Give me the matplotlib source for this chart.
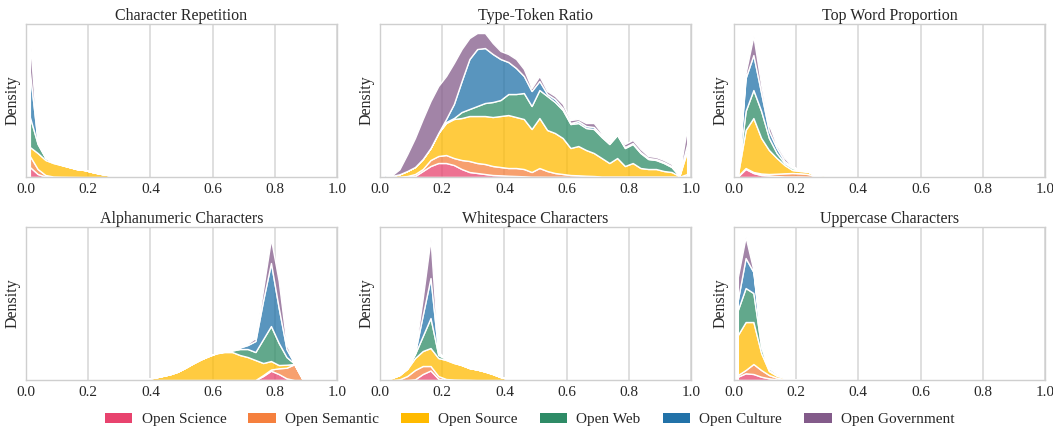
import numpy as np
import matplotlib
matplotlib.use("Agg")
from matplotlib import pyplot as plt
from matplotlib.colors import to_rgba
from matplotlib.patches import Patch

# series (bottom of the stack first)
series_names = ["Open Science", "Open Semantic", "Open Source",
                "Open Web", "Open Culture", "Open Government"]
series_colors = ["#E8436E", "#F5803E", "#FFBA00", "#2E8B66", "#2272A8", "#835B8A"]

panel_titles = ["Character Repetition", "Type-Token Ratio", "Top Word Proportion",
                "Alphanumeric Characters", "Whitespace Characters", "Uppercase Characters"]

# 40 bins on [0, 1]; each panel stores the first used bin and the
# stacked top of every series (science, semantic, source, web, culture, government)
n_bins = 40
xticks = [0.0, 0.2, 0.4, 0.6, 0.8, 1.0]

char_rep_start = 0
char_rep = [
    [10, 3, 0.5, 0, 0, 0, 0, 0, 0, 0, 0, 0, 0, 0],
    [21, 8, 2, 0.5, 0.3, 0.2, 0.1, 0, 0, 0, 0, 0, 0, 0],
    [30, 24, 17, 14, 12, 10, 8, 7, 5, 3.3, 2, 1, 0.5, 0.2],
    [60, 33, 19, 15, 12.3, 10.1, 8, 7, 5, 3.3, 2, 1, 0.5, 0.2],
    [105, 35, 19.5, 15.2, 12.4, 10.1, 8, 7, 5, 3.3, 2, 1, 0.5, 0.2],
    [137, 36, 20, 15.4, 12.5, 10.2, 8, 7, 5, 3.3, 2, 1, 0.5, 0.2],
]

ttr_start = 0
ttr = [
    [0, 0, 0, 0.3, 1, 6, 11, 14, 14, 12, 8, 5, 4, 3, 2, 1.7, 1.3, 1, 0.7, 0.3,
     0.3, 0.2, 0.2, 0.2, 0.1, 0.1, 0.1, 0.1, 0, 0, 0, 0, 0, 0, 0, 0, 0, 0, 0, 1],
    [0, 0, 0.3, 1, 3, 8, 17, 21, 22, 19, 17, 16, 14, 13, 11, 10, 9, 9, 8, 5,
     9, 6, 4, 3, 2, 1.7, 1.3, 1, 0.5, 0.5, 0.5, 0.5, 0.5, 0.5, 0.5, 0.5, 0.5, 0.5, 0.3, 3],
    [0, 1, 2.7, 6, 10, 18, 29, 44, 54, 58, 59, 61, 61, 61, 60, 61, 62, 60, 58, 48,
     59, 47, 44, 39, 29, 31, 27, 24, 19, 14, 19, 11, 14, 9, 8, 8, 6, 5, 1, 26],
    [0, 1, 2.7, 6, 10, 18, 29, 44, 55, 59, 65, 68, 71, 74, 75, 77, 83, 83, 84, 71,
     87, 81, 75, 67, 53, 54, 49, 48, 40, 33, 42, 29, 33, 24, 18, 17, 14, 10, 1, 30],
    [2, 1, 2.7, 6, 10, 18, 29, 44, 58, 73, 96, 118, 128, 129, 123, 118, 115, 109, 101, 86,
     96, 83, 78, 69, 54, 56, 51, 50, 42, 34, 43, 30, 34, 25, 19, 18, 15, 11, 2, 33],
    [2, 1.5, 7.7, 22.7, 39, 58, 76, 91, 101, 114, 128, 139, 144, 144, 134, 126, 123, 118, 108, 89,
     101, 86, 81, 73, 57, 58, 54, 54, 44, 36, 45, 33, 37, 28, 21, 20, 17, 13, 3, 50],
]

top_word_start = 0
top_word = [
    [0.5, 8, 4, 2, 1.5, 1, 0.5, 0.5, 0.5, 0.3, 0.2, 0, 0],
    [1, 9, 5, 3.5, 3, 3.3, 3.7, 4, 3.7, 3, 0.7, 0.3, 0],
    [2, 47, 59, 39, 27, 19, 12, 7, 6, 5.5, 1.5, 2, 0.3],
    [2, 66, 87, 66, 39, 24, 14, 9, 6.5, 5.5, 2, 2, 0.3],
    [2, 99, 122, 84, 46, 29, 16, 10, 7, 5.5, 2, 2, 0.3],
    [2, 104, 141, 92, 52, 32, 19, 11, 7, 6, 2, 2, 0.3],
]

alnum_start = 12
alnum = [
    [0, 0, 0, 0, 0, 0, 0, 0, 0, 0, 0, 0, 0, 0, 0, 0, 0, 0, 4, 9.3, 6, 1.7, 0, 0],
    [0, 0, 0, 0, 0, 0, 0, 0, 0, 0, 0, 0, 0, 0, 0, 0, 0, 0, 5, 10.5, 11.7, 12.3, 15.7, 1.7],
    [0.3, 0.5, 0.7, 1.3, 2.3, 4, 5.7, 8.3, 12.3, 16.7, 20.7, 24, 26.7, 28, 28, 25, 23, 20,
     17, 19, 15, 15.3, 16, 1.7],
    [0.3, 0.5, 0.7, 1.3, 2.3, 4, 5.7, 8.3, 12.3, 16.7, 20.7, 24, 27, 28.5, 29.5, 31, 31, 28,
     41, 54, 37, 23, 16.5, 1.7],
    [0.3, 0.5, 0.7, 1.3, 2.3, 4, 5.7, 8.3, 12.3, 16.7, 20.7, 24, 27, 28.5, 30, 32.5, 35, 39,
     80, 117, 72, 31, 16.7, 1.7],
    [0.3, 0.5, 0.7, 1.3, 2.3, 4, 5.7, 8.3, 12.3, 16.7, 20.7, 24, 27, 28.5, 30, 33, 36.5, 42,
     91, 141, 99, 36, 17, 1.7],
]

whitespace_start = 0
whitespace = [
    [0, 0, 0, 0, 0.7, 6, 9.5, 1.3, 0, 0, 0, 0, 0, 0, 0, 0, 0, 0],
    [0, 0, 0.7, 4, 10, 14, 14, 4, 1, 0.5, 0.3, 0.2, 0, 0, 0, 0, 0, 0],
    [0.5, 2, 5, 11, 22, 29, 32, 22, 20, 17, 15, 12, 10.5, 8.5, 6, 3, 1, 0.2],
    [0.5, 2, 5, 11.5, 26, 44, 62, 25, 21, 17.5, 15, 12, 10.5, 8.5, 6, 3, 1, 0.2],
    [0.5, 2, 5, 12, 27, 65, 102, 27, 21.3, 17.7, 15, 12, 10.5, 8.5, 6, 3, 1, 0.2],
    [0.5, 2, 5, 12.5, 27.5, 82, 141, 28, 21.5, 17.8, 15, 12, 10.5, 8.5, 6, 3, 1, 0.2],
]

upper_start = 0
upper = [
    [3.3, 6.7, 6, 3.3, 1.7, 0.7, 0.3, 0, 0],
    [5, 10, 16, 10, 5, 2.3, 1, 0.3, 0],
    [45, 58, 58, 27, 9, 4.3, 2.3, 1, 0.3],
    [70, 92, 87, 33, 10, 5, 2.7, 1, 0.3],
    [80, 122, 108, 38, 12, 6.7, 3.3, 1, 0.3],
    [103, 143, 110, 40, 13, 7, 3.3, 1, 0.3],
]

panels = [(char_rep_start, char_rep), (ttr_start, ttr), (top_word_start, top_word),
          (alnum_start, alnum), (whitespace_start, whitespace), (upper_start, upper)]

TEXT = "#262626"
plt.rcParams["font.family"] = ["Liberation Serif", "DejaVu Serif"]
plt.rcParams["font.size"] = 11


def draw_panel(ax, title, start, tops):
    edges = np.linspace(0, 1, n_bins + 1)
    centers = (edges[:-1] + edges[1:]) / 2
    x = centers[start:start + len(tops[0])]
    lower = np.zeros(len(x))
    for top, color in zip(tops, series_colors):
        top = np.asarray(top, dtype=float)
        ax.fill_between(x, lower, top, facecolor=to_rgba(color, 0.75),
                        edgecolor="white", linewidth=1.0, zorder=2)
        lower = top

    ax.set_xlim(0, 1)
    ax.set_ylim(0, 153)
    ax.set_xticks(xticks)
    ax.set_xticklabels([f"{t:.1f}" for t in xticks])
    ax.set_yticks([])
    ax.set_axisbelow(True)
    ax.grid(axis="x", color="#d6d6d6", linewidth=1.1)
    ax.tick_params(axis="x", length=0, pad=4, colors=TEXT, labelsize=11)
    for s in ax.spines.values():
        s.set_color("#cfcfcf")
        s.set_linewidth(1.0)
    ax.set_title(title, fontsize=11.5, color=TEXT, pad=3)
    ax.set_ylabel("Density", fontsize=11.5, color=TEXT, labelpad=4)


fig, axes = plt.subplots(2, 3, figsize=(10.53, 4.29), dpi=100)
fig.subplots_adjust(left=0.0247, right=0.9924, top=0.944, bottom=0.1142,
                    wspace=0.138, hspace=0.327)

for ax, title, (start, tops) in zip(axes.flat, panel_titles, panels):
    draw_panel(ax, title, start, tops)

handles = [Patch(facecolor=c, edgecolor="none", label=n)
           for n, c in zip(series_names, series_colors)]
fig.legend(handles=handles, loc="lower center", bbox_to_anchor=(0.503, -0.026),
           ncol=6, frameon=False, fontsize=11, handlelength=1.8,
           handletextpad=0.6, columnspacing=1.45, labelcolor=TEXT)

fig.savefig("out.png", dpi=100)
